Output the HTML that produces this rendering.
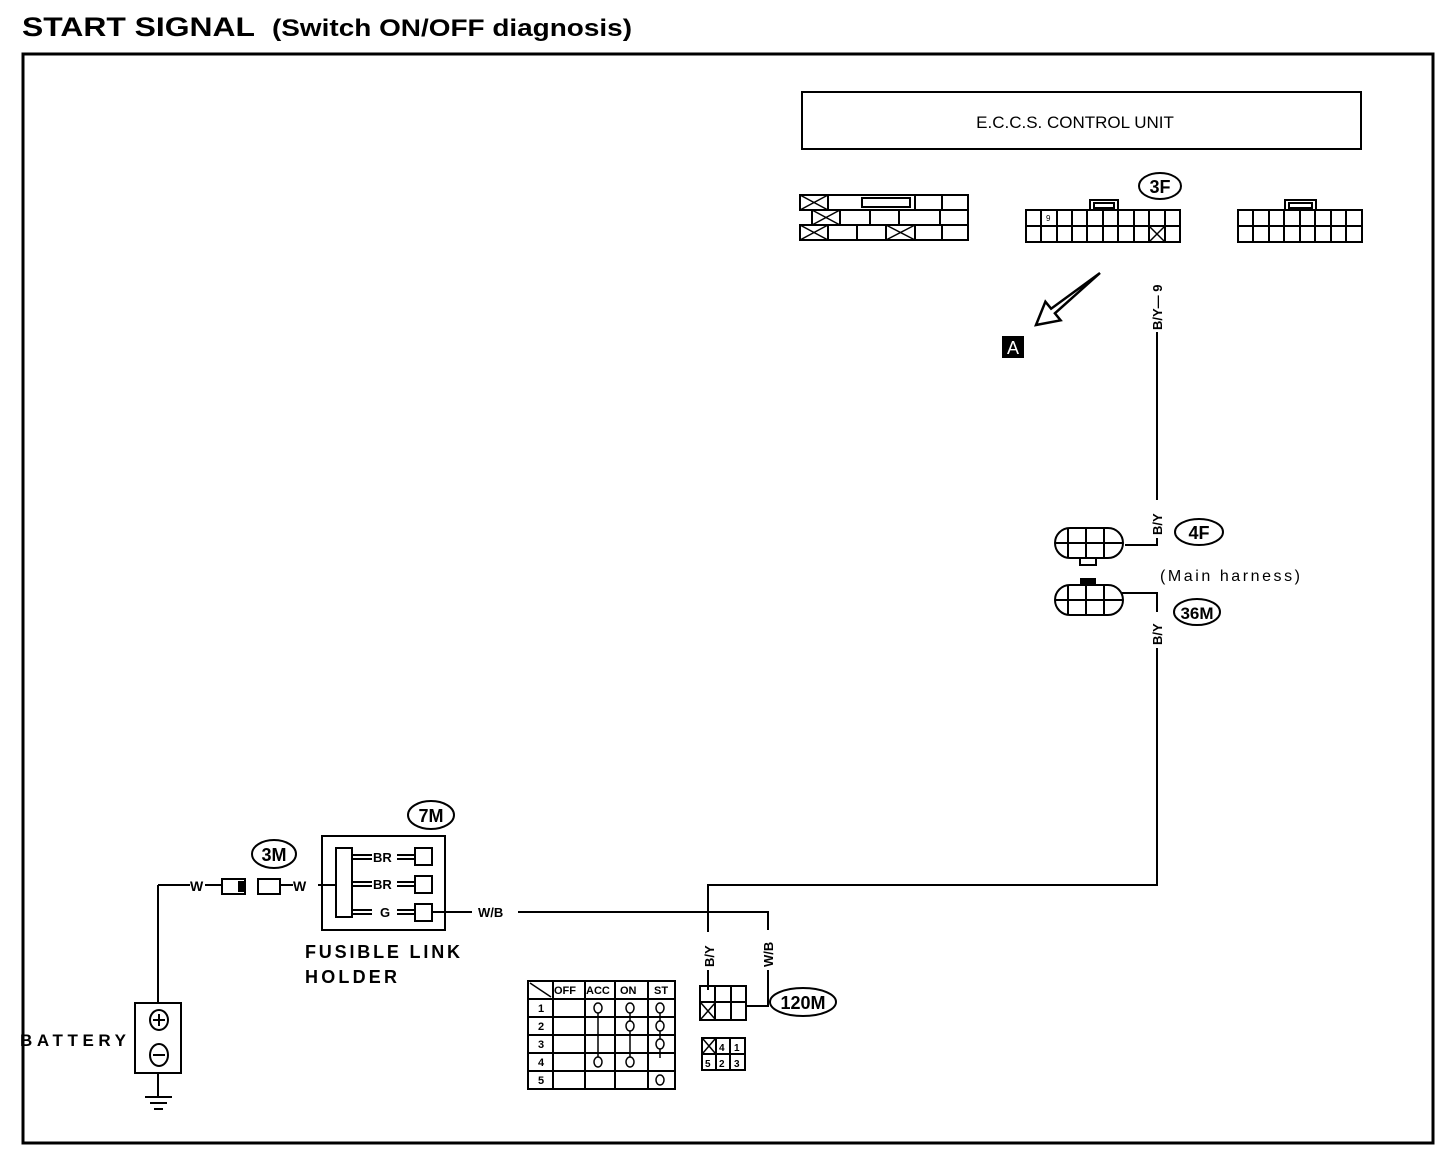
<!DOCTYPE html>
<html><head><meta charset="utf-8"><style>
html,body{margin:0;padding:0;background:#fff;}
svg{display:block;}
text{font-family:"Liberation Sans",sans-serif;fill:#000;}
</style></head><body>
<svg width="1456" height="1156" viewBox="0 0 1456 1156" xmlns="http://www.w3.org/2000/svg">
<text x="22" y="36" font-size="27" font-weight="bold" textLength="233" lengthAdjust="spacingAndGlyphs">START  SIGNAL</text>
<text x="272" y="36" font-size="24" font-weight="bold" textLength="360" lengthAdjust="spacingAndGlyphs">(Switch ON/OFF diagnosis)</text>
<rect x="23" y="54" width="1410" height="1089" fill="none" stroke="#000" stroke-width="3"/>

<g fill="none" stroke="#000" stroke-width="2">
<rect x="802" y="92" width="559" height="57"/>
<rect x="800" y="195" width="168" height="15"/>
<rect x="812" y="210" width="156" height="15"/>
<rect x="800" y="225" width="168" height="15"/>
<path d="M828 195v15M915 195v15M942 195v15M840 210v15M870 210v15M899 210v15M940 210v15M828 225v15M857 225v15M886 225v15M915 225v15M942 225v15"/>
<rect x="862" y="198" width="48" height="9"/>
<path d="M800 195l28 15M828 195l-28 15M812 210l28 15M840 210l-28 15M800 225l28 15M828 225l-28 15M886 225l29 15M915 225l-29 15" stroke-width="1.5"/>
<rect x="1026" y="210" width="154" height="32"/>
<path d="M1026 226h154"/>
<path d="M1041 210v32M1057 210v32M1072 210v32M1087 210v32M1103 210v32M1118 210v32M1134 210v32M1149 210v32M1165 210v32"/>
<rect x="1090" y="200" width="28" height="10"/>
<rect x="1094" y="203" width="20" height="5"/>
<path d="M1149 226l16 16M1165 226l-16 16" stroke-width="1.5"/>
<rect x="1238" y="210" width="124" height="32"/>
<path d="M1238 226h124"/>
<path d="M1253 210v32M1269 210v32M1284 210v32M1300 210v32M1315 210v32M1331 210v32M1346 210v32"/>
<rect x="1285" y="200" width="31" height="10"/>
<rect x="1289" y="203" width="23" height="5"/>
<ellipse cx="1160" cy="186" rx="21" ry="13"/>
<path d="M1036 325L1060.6 320.3L1054.9 313.3L1100 273L1051.1 308.7L1045.4 301.7Z" stroke-width="2.5" stroke-linejoin="miter"/>
</g>
<text x="1075" y="128" font-size="17" text-anchor="middle">E.C.C.S. CONTROL UNIT</text>
<text x="1160" y="193" font-size="18" font-weight="bold" text-anchor="middle">3F</text>
<text x="1046" y="221" font-size="8">9</text>
<rect x="1002" y="336" width="22" height="22" fill="#000"/>
<text x="1013" y="354" font-size="18" style="fill:#fff" text-anchor="middle">A</text>

<g fill="none" stroke="#000" stroke-width="2">
<path d="M1157 330V545H1125"/>
<path d="M1122 593H1157V885H708V990"/>
<path d="M432 912H768V1006H746"/>
<path d="M158 885V1003M158 1073V1097"/>
<path d="M145 1097h27M150 1103h17M154 1109h9"/>
<path d="M158 885H190M205 885H222M280 885H293M318 885H336"/>
</g>
<rect x="1150" y="270" width="14" height="62" fill="#fff"/>
<text transform="translate(1162,330) rotate(-90)" font-size="13" font-weight="bold">B/Y— 9</text>
<rect x="1150" y="500" width="14" height="38" fill="#fff"/>
<text transform="translate(1162,535) rotate(-90)" font-size="13" font-weight="bold">B/Y</text>
<rect x="1150" y="612" width="14" height="36" fill="#fff"/>
<text transform="translate(1162,645) rotate(-90)" font-size="13" font-weight="bold">B/Y</text>
<rect x="702" y="932" width="14" height="38" fill="#fff"/>
<text transform="translate(714,967) rotate(-90)" font-size="13" font-weight="bold">B/Y</text>
<rect x="761" y="930" width="14" height="40" fill="#fff"/>
<text transform="translate(773,967) rotate(-90)" font-size="13" font-weight="bold">W/B</text>

<g fill="none" stroke="#000" stroke-width="2">
<path d="M1070 528H1108A15 15 0 0 1 1108 558H1070A15 15 0 0 1 1070 528Z"/>
<path d="M1068 528v30M1086 528v30M1104 528v30M1055 543h67"/>
<rect x="1080" y="558" width="16" height="7"/>
<path d="M1070 585H1108A15 15 0 0 1 1108 615H1070A15 15 0 0 1 1070 585Z"/>
<path d="M1068 585v30M1086 585v30M1104 585v30M1055 600h67"/>
<ellipse cx="1199" cy="532" rx="24" ry="13"/>
<ellipse cx="1197" cy="612" rx="23" ry="13"/>
</g>
<rect x="1080" y="578" width="16" height="7" fill="#000"/>
<text x="1199" y="539" font-size="18" font-weight="bold" text-anchor="middle">4F</text>
<text x="1197" y="619" font-size="17" font-weight="bold" text-anchor="middle">36M</text>
<text x="1160" y="581" font-size="16" textLength="140">(Main harness)</text>

<g fill="none" stroke="#000" stroke-width="2">
<rect x="222" y="879" width="23" height="15"/>
<rect x="258" y="879" width="22" height="15"/>
<ellipse cx="274" cy="854" rx="22" ry="14"/>
<ellipse cx="431" cy="815" rx="23" ry="14"/>
<rect x="322" y="836" width="123" height="94"/>
<rect x="336" y="848" width="16" height="69"/>
<path d="M352 855h20M352 859h20M352 882h20M352 886h20M352 910h20M352 914h20"/>
<path d="M397 855h18M397 859h18M397 882h18M397 886h18M397 910h18M397 914h18"/>
<rect x="415" y="848" width="17" height="17"/>
<rect x="415" y="876" width="17" height="17"/>
<rect x="415" y="904" width="17" height="17"/>
</g>
<rect x="238" y="881" width="6" height="11" fill="#000"/>
<text x="190" y="891" font-size="14" font-weight="bold">W</text>
<text x="293" y="891" font-size="14" font-weight="bold">W</text>
<text x="274" y="861" font-size="18" font-weight="bold" text-anchor="middle">3M</text>
<text x="431" y="822" font-size="18" font-weight="bold" text-anchor="middle">7M</text>
<text x="373" y="862" font-size="13" font-weight="bold">BR</text>
<text x="373" y="889" font-size="13" font-weight="bold">BR</text>
<text x="380" y="917" font-size="13" font-weight="bold">G</text>
<rect x="472" y="905" width="46" height="14" fill="#fff"/>
<text x="478" y="917" font-size="13" font-weight="bold">W/B</text>
<text x="305" y="958" font-size="18" font-weight="bold" textLength="155">FUSIBLE LINK</text>
<text x="305" y="983" font-size="18" font-weight="bold" textLength="92">HOLDER</text>

<g fill="none" stroke="#000" stroke-width="2">
<rect x="135" y="1003" width="46" height="70"/>
<ellipse cx="159" cy="1020" rx="9" ry="10"/>
<path d="M153 1020h12M159 1014v12"/>
<ellipse cx="159" cy="1055" rx="9" ry="11"/>
<path d="M153 1055h12"/>
</g>
<text x="20" y="1046" font-size="17" font-weight="bold" textLength="106">BATTERY</text>

<g fill="none" stroke="#000" stroke-width="2">
<rect x="528" y="981" width="147" height="108"/>
<path d="M553 981v108M585 981v108M615 981v108M648 981v108"/>
<path d="M528 999h147M528 1017h147M528 1035h147M528 1053h147M528 1071h147"/>
<path d="M530 983l21 14" stroke-width="1.5"/>
<path d="M598 1012v45M630 1012v45M660 1012v46" stroke-width="1.5"/>
<g stroke-width="1.5" fill="#fff">
<ellipse cx="598" cy="1008" rx="4" ry="5"/>
<ellipse cx="630" cy="1008" rx="4" ry="5"/>
<ellipse cx="660" cy="1008" rx="4" ry="5"/>
<ellipse cx="630" cy="1026" rx="4" ry="5"/>
<ellipse cx="660" cy="1026" rx="4" ry="5"/>
<ellipse cx="660" cy="1044" rx="4" ry="5"/>
<ellipse cx="598" cy="1062" rx="4" ry="5"/>
<ellipse cx="630" cy="1062" rx="4" ry="5"/>
<ellipse cx="660" cy="1080" rx="4" ry="5"/>
</g>
</g>
<g font-size="11" font-weight="bold">
<text x="554" y="994">OFF</text><text x="586" y="994">ACC</text><text x="620" y="994">ON</text><text x="654" y="994">ST</text>
<text x="538" y="1012">1</text><text x="538" y="1030">2</text><text x="538" y="1048">3</text><text x="538" y="1066">4</text><text x="538" y="1084">5</text>
</g>

<g fill="none" stroke="#000" stroke-width="2">
<rect x="700" y="986" width="46" height="34"/>
<path d="M700 1002h46M715 986v34M731 986v34"/>
<path d="M701 1003l14 16M715 1003l-14 16" stroke-width="1.5"/>
<ellipse cx="803" cy="1002" rx="33" ry="14"/>
<rect x="702" y="1038" width="43" height="32"/>
<path d="M702 1054h43M716 1038v32M730 1038v32"/>
<path d="M703 1039l12 14M715 1039l-12 14" stroke-width="1.5"/>
</g>
<text x="803" y="1009" font-size="18" font-weight="bold" text-anchor="middle">120M</text>
<g font-size="10" font-weight="bold">
<text x="719" y="1051">4</text><text x="734" y="1051">1</text>
<text x="705" y="1067">5</text><text x="719" y="1067">2</text><text x="734" y="1067">3</text>
</g>
</svg>
</body></html>
